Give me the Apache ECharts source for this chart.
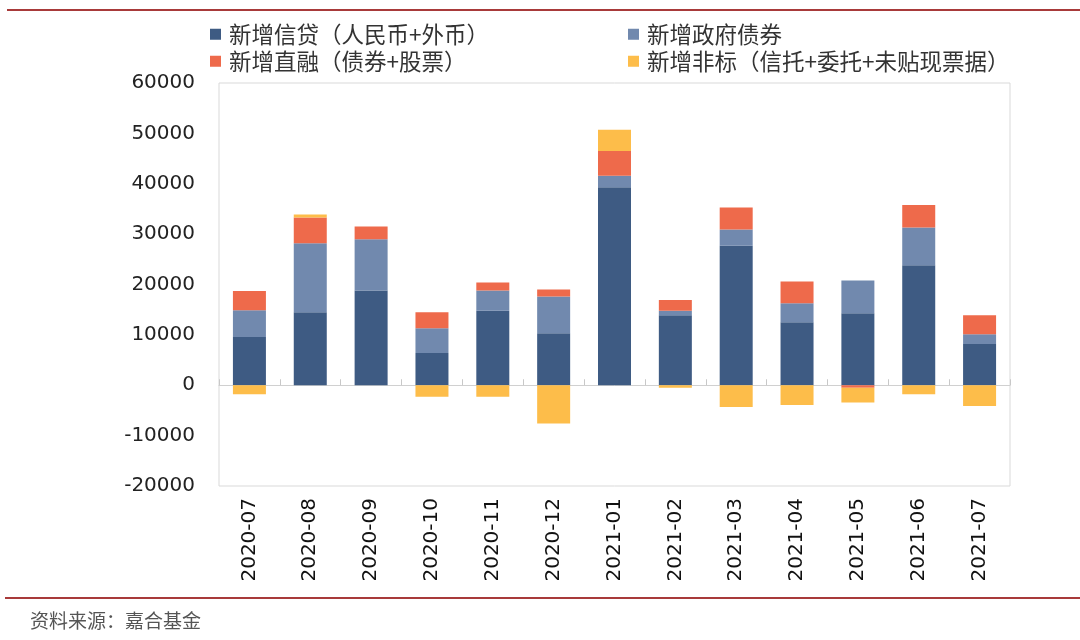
<!DOCTYPE html>
<html>
<head>
<meta charset="utf-8">
<script src="https://cdn.jsdelivr.net/npm/echarts@6/dist/echarts.min.js"></script>
<style>
html,body{margin:0;padding:0;background:#fff;}
#chart{width:1080px;height:640px;}
</style>
</head>
<body>
<div id="chart"></div>
<script>
const categories = ['2020-07','2020-08','2020-09','2020-10','2020-11','2020-12','2021-01','2021-02','2021-03','2021-04','2021-05','2021-06','2021-07'];
const seriesNames = ['新增信贷（人民币+外币）','新增政府债券','新增直融（债券+股票）','新增非标（信托+委托+未贴现票据）'];
const credit = [9600, 14500, 18800, 6400, 14800, 10300, 39300, 13900, 27700, 12500, 14300, 23800, 8200];
const govBond = [5300, 13700, 10200, 4900, 4000, 7300, 2300, 900, 3200, 3800, 6500, 7500, 1900];
const directFin = [3800, 5100, 2500, 3200, 1600, 1400, 4900, 2100, 4400, 4300, -500, 4500, 3800];
const nonStandard = [-1800, 600, 0, -2300, -2300, -7600, 4200, -500, -4300, -3900, -2900, -1800, -4100];
const sourceText = '资料来源：嘉合基金';

const colors = ['#3e5b83', '#7189ae', '#ee6a4b', '#fdbd4a'];
const values = [credit, govBond, directFin, nonStandard];

const chart = echarts.init(document.getElementById('chart'));

const legendPos = [[210, 23], [628, 23], [210, 50], [628, 50]];
const legends = seriesNames.map((n, i) => ({
  data: [n],
  left: legendPos[i][0],
  top: legendPos[i][1],
  padding: 0,
  icon: 'rect',
  itemWidth: 11,
  itemHeight: 11,
  selectedMode: false,
  textStyle: {fontSize: 22.5, color: '#333', fontFamily: 'Noto Sans CJK SC', padding: [0, 0, 0, 3]}
}));

const option = {
  animation: false,
  color: colors,
  legend: legends,
  grid: {left: 219, right: 70, top: 83, bottom: 154, show: true, borderColor: '#d9d9d9', borderWidth: 1},
  xAxis: [
    {
      type: 'category', data: categories, position: 'bottom',
      axisLine: {onZero: true, lineStyle: {color: '#d0d0d0', width: 1}},
      axisTick: {show: true, inside: true, length: 6, lineStyle: {color: '#c8c8c8'}},
      axisLabel: {show: false}
    },
    {
      type: 'category', data: categories, position: 'bottom',
      axisLine: {show: false, onZero: false},
      axisTick: {show: false},
      axisLabel: {rotate: 90, fontSize: 20, color: '#111', fontFamily: 'DejaVu Sans', margin: 12}
    }
  ],
  yAxis: {
    type: 'value', min: -20000, max: 60000, interval: 10000,
    axisLine: {show: false}, axisTick: {show: false}, splitLine: {show: false},
    axisLabel: {fontSize: 20, color: '#222', fontFamily: 'DejaVu Sans', margin: 24, formatter: v => String(v)}
  },
  series: seriesNames.map((n, i) => ({
    name: n, type: 'bar', stack: 'total', xAxisIndex: 0, barWidth: 33,
    data: values[i], itemStyle: {color: colors[i]}
  })),
  graphic: [
    {type: 'line', shape: {x1: 7, y1: 10, x2: 1080, y2: 10}, style: {stroke: '#a83a3a', lineWidth: 2}},
    {type: 'line', shape: {x1: 5, y1: 598, x2: 1080, y2: 598}, style: {stroke: '#a83a3a', lineWidth: 2}},
    {type: 'text', left: 30, top: 611, style: {text: sourceText, fontSize: 19, fill: '#555', fontFamily: 'Noto Sans CJK SC'}}
  ]
};
chart.setOption(option);
</script>
</body>
</html>
